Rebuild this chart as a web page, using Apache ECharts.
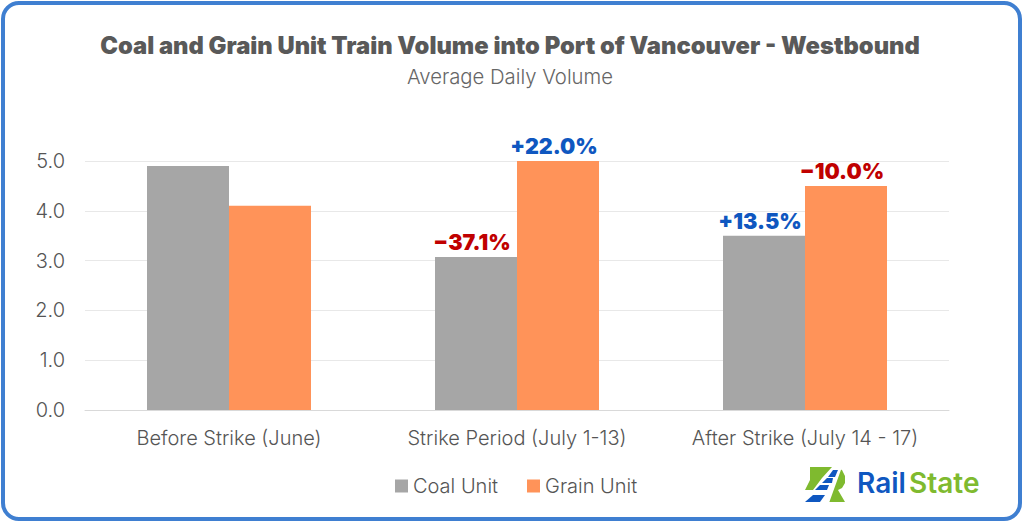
<!DOCTYPE html>
<html><head><meta charset="utf-8">
<style>html,body{margin:0;padding:0;background:#fff}#c{width:1024px;height:525px}</style>
<script src="https://cdn.jsdelivr.net/npm/echarts@6/dist/echarts.min.js"></script></head>
<body><div id="c"></div>
<script>
const categories = ['Before Strike (June)', 'Strike Period (July 1-13)', 'After Strike (July 14 - 17)'];
const coalValues = [4.9, 3.07, 3.5];
const grainValues = [4.1, 5.0, 4.5];
const coalChanges = ['', '\u221237.1%', '+13.5%'];
const grainChanges = ['', '+22.0%', '\u221210.0%'];
const UP = '#0f57c0', DOWN = '#c00000';
function lab(t){
  return {show: !!t, formatter: t, position:'top', distance:4, offset:[-4,0], fontFamily:'Inter', fontWeight:900, fontSize:21.5,
    color: t.charAt(0)==='+' ? UP : DOWN};
}
const mk = (vals, labs) => vals.map((v,i)=>({value:v,label:lab(labs[i])}));
const chart = echarts.init(document.getElementById('c'),null,{renderer:'svg'});
chart.setOption({
  animation:false,
  backgroundColor:'#fff',
  title:[
    {text:'Coal and Grain Unit Train Volume into Port of Vancouver - Westbound',left:505,top:28,textAlign:'center',
     textStyle:{fontFamily:'Inter',fontWeight:900,fontSize:23.75,color:'#595959'}},
    {text:'Average Daily Volume',left:505,top:61,textAlign:'center',
     textStyle:{fontFamily:'Inter',fontWeight:300,fontSize:20.3,color:'#666'}}
  ],
  legend:{left:390,top:471,itemWidth:13,itemHeight:13,itemGap:29,icon:'rect',
    textStyle:{fontFamily:'Inter',fontWeight:300,fontSize:20,color:'#555'}},
  grid:{left:85,right:75,top:161,bottom:115},
  xAxis:{type:'category',data:categories,axisTick:{show:false},
    axisLine:{lineStyle:{color:'#d9d9d9',width:1}},
    axisLabel:{fontFamily:'Inter',fontWeight:300,fontSize:20,color:'#555',margin:18,interval:0}},
  yAxis:{type:'value',min:0,max:5,interval:1,
    axisLabel:{fontFamily:'Inter',fontWeight:300,fontSize:20,color:'#555',margin:20,padding:[0,0,2,0],formatter:v=>v.toFixed(1)},
    splitLine:{lineStyle:{color:'#e8e8e8',width:1}},axisLine:{show:false},axisTick:{show:false}},
  series:[
    {name:'Coal Unit',type:'bar',data:mk(coalValues,coalChanges),barWidth:82,barGap:'0%',itemStyle:{color:'#a6a6a6'}},
    {name:'Grain Unit',type:'bar',data:mk(grainValues,grainChanges),barWidth:82,barGap:'0%',itemStyle:{color:'#ff9359'}}
  ],
  graphic:[
    {type:'rect',silent:true,shape:{x:3,y:3,width:1017,height:516,r:16},style:{fill:'none',stroke:'#3f7fd1',lineWidth:4}},
    {type:'polygon',silent:true,shape:{points:[[810,467],[835,467],[842,470],[845,476],[845,483],[842,488],[838,490],[845,502],[827,502],[826,494],[818,490],[805,490],[810,480]]},style:{fill:'#7fba2f'}},
    {type:'polygon',silent:true,shape:{points:[[802,503],[829,503],[842,467],[832,467],[822,478],[813,490]]},style:{fill:'#fff'}},
    {type:'polygon',silent:true,shape:{points:[[805,502],[820,502],[825,495],[813,495]]},style:{fill:'#0f57c0'}},
    {type:'polygon',silent:true,shape:{points:[[815,490],[827,490],[829,485],[820,485]]},style:{fill:'#0f57c0'}},
    {type:'polygon',silent:true,shape:{points:[[822,483],[832,483],[833,478],[827,478]]},style:{fill:'#0f57c0'}},
    {type:'polygon',silent:true,shape:{points:[[828,477],[835,477],[838,470],[833,470]]},style:{fill:'#0f57c0'}},
    {type:'text',silent:true,left:857,top:469,style:{text:'Rail',fontFamily:'Inter',fontWeight:600,fontSize:28,fill:'#0f57c0'}},
    {type:'text',silent:true,left:909,top:469,style:{text:'State',fontFamily:'Inter',fontWeight:600,fontSize:28,fill:'#7fba2f'}}
  ]
});
</script></body></html>
